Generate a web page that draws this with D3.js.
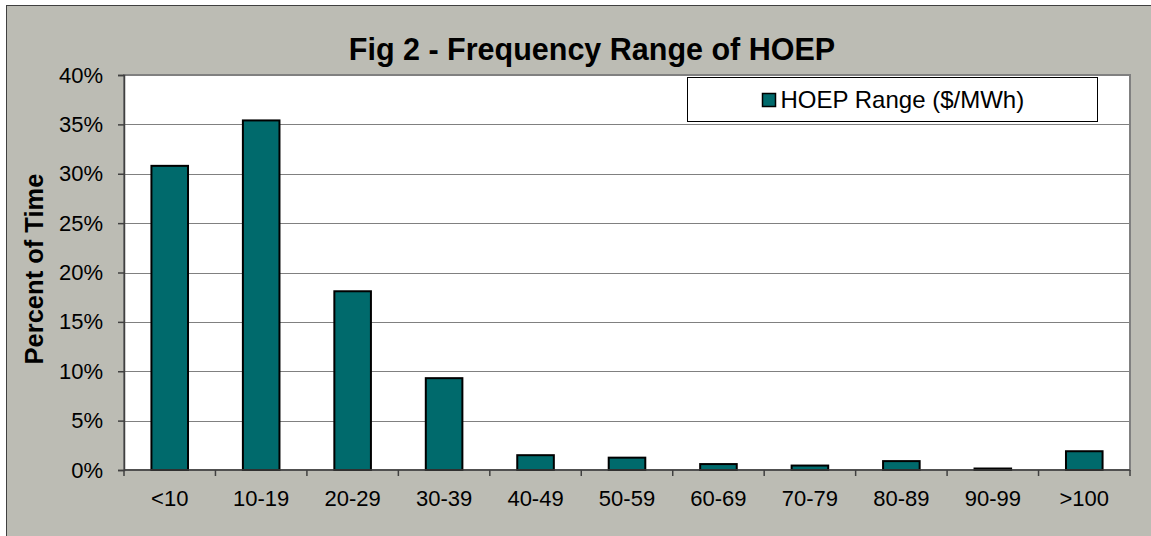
<!DOCTYPE html>
<html>
<head>
<meta charset="utf-8">
<script src="https://cdn.jsdelivr.net/npm/d3@7"></script>
<style>
  body { margin: 0; background: #fff; }
  svg { display: block; font-family: "Liberation Sans", Arial, sans-serif; }
</style>
</head>
<body>
<div id="chart"></div>
<script>
const categories = ["<10", "10-19", "20-29", "30-39", "40-49", "50-59", "60-69", "70-79", "80-89", "90-99", ">100"];
const percentValues = [30.8, 35.4, 18.1, 9.3, 1.5, 1.25, 0.6, 0.45, 0.9, 0.15, 1.9];
const yTicks = [0, 5, 10, 15, 20, 25, 30, 35, 40];
const seriesName = "HOEP Range ($/MWh)";

const width = 1151, height = 536;
const margin = { top: 75, right: 21, bottom: 66, left: 124 };
const plotW = width - margin.left - margin.right;
const plotH = height - margin.top - margin.bottom;

const svg = d3.select("#chart").append("svg")
  .attr("width", width)
  .attr("height", height);

// chart background + frame
svg.append("rect")
  .attr("x", 6.5).attr("y", 5.5)
  .attr("width", width).attr("height", height)
  .attr("fill", "#bcbcb4")
  .attr("stroke", "#404040")
  .attr("stroke-width", 1);

svg.append("text")
  .attr("x", 592).attr("y", 60)
  .attr("text-anchor", "middle")
  .attr("font-size", 30.5)
  .attr("font-weight", "bold")
  .text("Fig 2 - Frequency Range of HOEP");

const g = svg.append("g").attr("transform", `translate(${margin.left},${margin.top})`);

const x = d3.scaleBand().domain(categories).range([0, plotW]).paddingInner(0.6).paddingOuter(0.3);
const xEdge = d3.scaleLinear().domain([0, categories.length]).range([0, plotW]);
const y = d3.scaleLinear().domain([0, 40]).range([plotH, 0]);

// plot area
g.append("rect")
  .attr("width", plotW).attr("height", plotH)
  .attr("fill", "#fff")
  .attr("stroke", "#808080")
  .attr("stroke-width", 2);

// gridlines
g.selectAll(".grid").data(yTicks.filter(d => d > 0 && d < 40)).enter()
  .append("line")
  .attr("x1", 0).attr("x2", plotW)
  .attr("y1", d => Math.round(y(d)) + 0.5).attr("y2", d => Math.round(y(d)) + 0.5)
  .attr("stroke", "#808080")
  .attr("stroke-width", 1.2);

// bars
g.selectAll(".bar").data(percentValues).enter()
  .append("rect")
  .attr("x", (d, i) => x(categories[i]))
  .attr("y", d => y(d))
  .attr("width", x.bandwidth())
  .attr("height", d => plotH - y(d))
  .attr("fill", "#006a6c")
  .attr("stroke", "#000")
  .attr("stroke-width", 2);

// y axis
const yAxis = d3.axisLeft(y).tickValues(yTicks).tickFormat(d => d + "%").tickSize(6).tickPadding(15);
const ya = g.append("g").call(yAxis);
ya.select(".domain").attr("stroke", "#404040").attr("stroke-width", 1.5);
ya.selectAll(".tick line").attr("stroke", "#404040").attr("stroke-width", 1.5);
ya.selectAll("text").attr("font-size", 22).attr("fill", "#000").attr("font-family", "Liberation Sans, Arial, sans-serif");

// x axis
const xa = g.append("g").attr("transform", `translate(0,${plotH})`);
xa.append("line").attr("x1", 0).attr("x2", plotW).attr("stroke", "#404040").attr("stroke-width", 1.5);
xa.selectAll(".xt").data(d3.range(categories.length + 1)).enter()
  .append("line")
  .attr("x1", d => xEdge(d)).attr("x2", d => xEdge(d))
  .attr("y1", 0).attr("y2", 6)
  .attr("stroke", "#404040").attr("stroke-width", 1.5);
xa.selectAll(".xl").data(categories).enter()
  .append("text")
  .attr("x", d => x(d) + x.bandwidth() / 2)
  .attr("y", 36)
  .attr("text-anchor", "middle")
  .attr("font-size", 22)
  .text(d => d);

// y label
svg.append("text")
  .attr("transform", "translate(43,269) rotate(-90)")
  .attr("text-anchor", "middle")
  .attr("font-size", 25.5)
  .attr("font-weight", "bold")
  .text("Percent of Time");

// legend
const lg = svg.append("g").attr("transform", "translate(687.5,77.5)");
lg.append("rect").attr("width", 410).attr("height", 44).attr("fill", "#fff").attr("stroke", "#000").attr("stroke-width", 1);
lg.append("rect").attr("x", 75).attr("y", 16).attr("width", 13).attr("height", 13)
  .attr("fill", "#006a6c").attr("stroke", "#000").attr("stroke-width", 1.5);
lg.append("text").attr("x", 93).attr("y", 30.5).attr("font-size", 24).text(seriesName);
</script>
</body>
</html>
